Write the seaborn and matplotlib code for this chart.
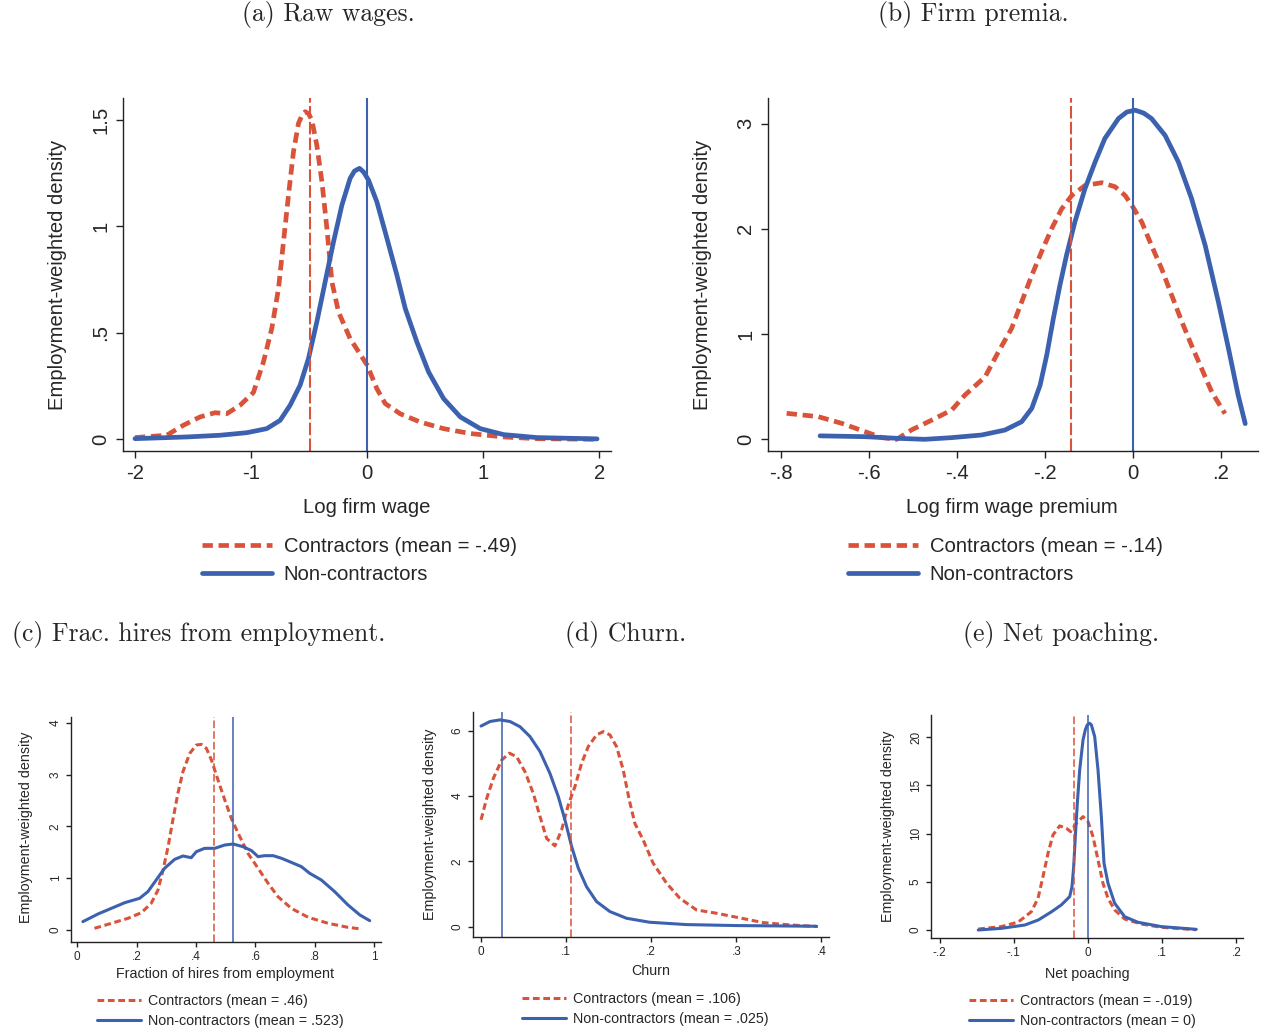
import matplotlib
matplotlib.use("Agg")
import matplotlib.pyplot as plt
import seaborn as sns

# ---- data ----
# (a) raw wages
a_con_x = [-2.0, -1.727, -1.583, -1.44, -1.31, -1.21, -1.095, -0.98, -0.894, -0.822, -0.764, -0.721,
           -0.678, -0.635, -0.592, -0.56, -0.534, -0.505, -0.477, -0.434, -0.39, -0.347, -0.304,
           -0.247, -0.147, 0.0, 0.083, 0.155, 0.284, 0.457, 0.658, 0.888, 1.175, 1.463, 1.98]
a_con_y = [0.008, 0.019, 0.066, 0.105, 0.125, 0.12, 0.16, 0.22, 0.363, 0.52, 0.708, 0.928,
           1.147, 1.351, 1.484, 1.525, 1.539, 1.53, 1.50, 1.382, 1.21, 0.99, 0.74,
           0.598, 0.473, 0.348, 0.238, 0.168, 0.12, 0.081, 0.05, 0.027, 0.011, 0.003, 0.0]
a_non_x = [-2.0, -1.554, -1.267, -1.037, -0.865, -0.75, -0.664, -0.578, -0.506, -0.434, -0.362,
           -0.29, -0.218, -0.147, -0.11, -0.066, -0.03, 0.011, 0.045, 0.083, 0.17, 0.256, 0.328,
           0.428, 0.529, 0.658, 0.802, 0.974, 1.175, 1.463, 1.98]
a_non_y = [0.003, 0.011, 0.019, 0.031, 0.05, 0.089, 0.16, 0.254, 0.379, 0.551, 0.74,
           0.928, 1.1, 1.226, 1.26, 1.273, 1.255, 1.218, 1.17, 1.116, 0.944, 0.771, 0.614,
           0.457, 0.316, 0.191, 0.105, 0.05, 0.022, 0.008, 0.002]
a_means = [-0.49, 0.0]

# (b) firm premia
b_con_x = [-0.787, -0.715, -0.662, -0.609, -0.571, -0.537, -0.503, -0.457, -0.412, -0.382, -0.336,
           -0.306, -0.276, -0.253, -0.23, -0.208, -0.185, -0.162, -0.139, -0.109, -0.071, -0.041,
           -0.018, 0.0, 0.02, 0.042, 0.065, 0.088, 0.111, 0.133, 0.156, 0.179, 0.209]
b_con_y = [0.247, 0.215, 0.152, 0.073, 0.016, 0.0, 0.09, 0.183, 0.278, 0.42, 0.594,
           0.83, 1.052, 1.305, 1.558, 1.78, 2.0, 2.19, 2.317, 2.412, 2.438, 2.4,
           2.317, 2.206, 2.063, 1.842, 1.621, 1.368, 1.117, 0.893, 0.671, 0.449, 0.244]
b_non_x = [-0.711, -0.609, -0.533, -0.473, -0.412, -0.344, -0.291, -0.253, -0.23, -0.211, -0.196,
           -0.181, -0.166, -0.151, -0.132, -0.109, -0.086, -0.064, -0.033, -0.014, 0.005, 0.024,
           0.042, 0.073, 0.103, 0.133, 0.164, 0.194, 0.217, 0.239, 0.255]
b_non_y = [0.033, 0.025, 0.009, 0.0, 0.016, 0.041, 0.088, 0.167, 0.294, 0.515, 0.8,
           1.148, 1.465, 1.75, 2.066, 2.383, 2.636, 2.858, 3.048, 3.11, 3.127, 3.10,
           3.048, 2.887, 2.636, 2.288, 1.842, 1.305, 0.861, 0.418, 0.149]
b_means = [-0.14, 0.0]

# (c) fraction of hires from employment
c_con_x = [0.058, 0.115, 0.171, 0.216, 0.249, 0.272, 0.289, 0.306, 0.322, 0.339, 0.356, 0.379,
           0.401, 0.418, 0.435, 0.452, 0.474, 0.497, 0.519, 0.542, 0.575, 0.609, 0.643, 0.676,
           0.721, 0.778, 0.845, 0.912, 0.957]
c_con_y = [0.032, 0.129, 0.225, 0.334, 0.514, 0.772, 1.158, 1.608, 2.122, 2.637, 3.055, 3.408,
           3.569, 3.582, 3.505, 3.28, 2.894, 2.508, 2.154, 1.865, 1.479, 1.19, 0.9, 0.643,
           0.418, 0.244, 0.129, 0.051, 0.019]
c_non_x = [0.019, 0.07, 0.115, 0.16, 0.21, 0.238, 0.266, 0.294, 0.328, 0.356, 0.384, 0.401,
           0.429, 0.463, 0.497, 0.525, 0.558, 0.587, 0.609, 0.631, 0.66, 0.688, 0.721, 0.755,
           0.783, 0.822, 0.867, 0.912, 0.952, 0.985]
c_non_y = [0.161, 0.309, 0.418, 0.527, 0.611, 0.74, 0.965, 1.19, 1.363, 1.428, 1.395, 1.511,
           1.576, 1.576, 1.64, 1.659, 1.608, 1.531, 1.415, 1.434, 1.434, 1.383, 1.305, 1.222,
           1.093, 0.965, 0.74, 0.482, 0.289, 0.18]
c_means = [0.46, 0.523]

# (d) churn
d_con_x = [0.0, 0.0067, 0.0145, 0.0243, 0.0333, 0.0419, 0.0517, 0.0614, 0.0693, 0.0771, 0.0869,
           0.0947, 0.1025, 0.1104, 0.1182, 0.126, 0.1358, 0.1436, 0.1515, 0.1593, 0.1671, 0.1742,
           0.1808, 0.1906, 0.2023, 0.218, 0.2337, 0.2532, 0.2767, 0.3002, 0.3315, 0.3628, 0.396]
d_con_y = [3.27, 3.93, 4.54, 5.1, 5.31, 5.2, 4.74, 4.08, 3.37, 2.7, 2.47,
           2.96, 3.72, 4.29, 5.0, 5.51, 5.87, 5.97, 5.87, 5.51, 4.8, 3.88,
           3.16, 2.65, 1.94, 1.33, 0.867, 0.51, 0.408, 0.286, 0.122, 0.051, 0.0]
d_non_x = [0.0, 0.0106, 0.0223, 0.034, 0.0458, 0.0575, 0.0693, 0.081, 0.0908, 0.0986, 0.1065,
           0.1143, 0.124, 0.1358, 0.1515, 0.171, 0.198, 0.2415, 0.3, 0.394]
d_non_y = [6.14, 6.28, 6.33, 6.28, 6.12, 5.82, 5.36, 4.69, 3.98, 3.27, 2.45,
           1.79, 1.22, 0.765, 0.459, 0.255, 0.133, 0.061, 0.031, 0.01]
d_means = [0.106, 0.025]

# (e) net poaching
e_con_x = [-0.148, -0.117, -0.094, -0.0764, -0.0674, -0.0607, -0.0539, -0.0472, -0.0382, -0.0292,
           -0.0234, -0.0157, -0.0067, 0.0, 0.0067, 0.0135, 0.0202, 0.027, 0.036, 0.0494, 0.0719,
           0.0989, 0.146]
e_con_y = [0.1, 0.35, 0.83, 1.9, 3.29, 5.54, 7.96, 9.86, 10.8, 10.55,
           10.2, 11.07, 11.76, 11.25, 9.69, 7.27, 4.84, 3.29, 2.08, 1.14, 0.62,
           0.28, 0.03]
e_non_x = [-0.148, -0.117, -0.085, -0.067, -0.049, -0.036, -0.0247, -0.0216, -0.0193, -0.0171,
           -0.0144, -0.0112, -0.0067, -0.0035, -0.0009, 0.002, 0.0045, 0.009, 0.0135, 0.018, 0.0216,
           0.027, 0.036, 0.0494, 0.0674, 0.0989, 0.146]
e_non_y = [0.0, 0.17, 0.52, 1.04, 1.9, 2.6, 3.46, 4.5, 6.57, 9.69,
           13.15, 16.6, 19.72, 20.8, 21.28, 21.45, 21.28, 20.07, 16.6, 11.76, 6.92,
           4.84, 2.77, 1.38, 0.8, 0.35, 0.07]
e_means = [-0.019, 0.0]

panel_titles = ["(a) Raw wages.", "(b) Firm premia.", "(c) Frac. hires from employment.",
                "(d) Churn.", "(e) Net poaching."]
x_labels = ["Log firm wage", "Log firm wage premium", "Fraction of hires from employment",
            "Churn", "Net poaching"]
legend_labels = [["Contractors (mean = -.49)", "Non-contractors"],
                 ["Contractors (mean = -.14)", "Non-contractors"],
                 ["Contractors (mean = .46)", "Non-contractors (mean = .523)"],
                 ["Contractors (mean = .106)", "Non-contractors (mean = .025)"],
                 ["Contractors (mean = -.019)", "Non-contractors (mean = 0)"]]
x_ticks = [[-2, -1, 0, 1, 2], [-0.8, -0.6, -0.4, -0.2, 0, 0.2], [0, 0.2, 0.4, 0.6, 0.8, 1],
           [0, 0.1, 0.2, 0.3, 0.4], [-0.2, -0.1, 0, 0.1, 0.2]]
x_ticklabels = [["-2", "-1", "0", "1", "2"], ["-.8", "-.6", "-.4", "-.2", "0", ".2"],
                ["0", ".2", ".4", ".6", ".8", "1"], ["0", ".1", ".2", ".3", ".4"],
                ["-.2", "-.1", "0", ".1", ".2"]]
y_ticks = [[0, 0.5, 1, 1.5], [0, 1, 2, 3], [0, 1, 2, 3, 4], [0, 2, 4, 6], [0, 5, 10, 15, 20]]
y_ticklabels = [["0", ".5", "1", "1.5"], ["0", "1", "2", "3"], ["0", "1", "2", "3", "4"],
                ["0", "2", "4", "6"], ["0", "5", "10", "15", "20"]]

RED = "#D9533A"
BLUE = "#3B61AF"

sns.set_style("ticks")
plt.rcParams["font.family"] = ["Liberation Sans", "DejaVu Sans"]
plt.rcParams["axes.unicode_minus"] = False

W, H = 1264, 1036
fig = plt.figure(figsize=(W / 100, H / 100), dpi=100)


def px(x0, y0, x1, y1):
    # pixel box (left, top, right, bottom) -> figure rect
    return [x0 / W, 1 - y1 / H, (x1 - x0) / W, (y1 - y0) / H]


panels = [
    dict(rect=px(122.7, 98.3, 611, 451), xlim=(-2.106, 2.1), ylim=(-0.055, 1.602),
         con=(a_con_x, a_con_y), non=(a_non_x, a_non_y), means=a_means, big=True,
         title_xy=(328, 15), xlab=(0.500, -0.159), ylab=(-0.1345, 0.499),
         leg=(202, 537)),
    dict(rect=px(767.7, 98.3, 1258, 451), xlim=(-0.83, 0.284), ylim=(-0.111, 3.24),
         con=(b_con_x, b_con_y), non=(b_non_x, b_non_y), means=b_means, big=True,
         title_xy=(973, 15), xlab=(0.498, -0.159), ylab=(-0.132, 0.499),
         leg=(848, 537)),
    dict(rect=px(70.7, 717, 381, 941.6), xlim=(-0.022, 1.023), ylim=(-0.224, 4.11),
         con=(c_con_x, c_con_y), non=(c_non_x, c_non_y), means=c_means, big=False,
         title_xy=(199, 635), xlab=(0.497, -0.144), ylab=(-0.144, 0.51),
         leg=(97, 994)),
    dict(rect=px(472.7, 711.7, 829, 936.7), xlim=(-0.0098, 0.409), ylim=(-0.31, 6.58),
         con=(d_con_x, d_con_y), non=(d_non_x, d_non_y), means=d_means, big=False,
         title_xy=(626, 635), xlab=(0.5, -0.152), ylab=(-0.12, 0.50),
         leg=(522, 992)),
    dict(rect=px(931, 715, 1243, 938), xlim=(-0.2117, 0.209), ylim=(-0.83, 22.3),
         con=(e_con_x, e_con_y), non=(e_non_x, e_non_y), means=e_means, big=False,
         title_xy=(1061, 635), xlab=(0.5, -0.161), ylab=(-0.138, 0.502),
         leg=(969, 994)),
]

for i, p in enumerate(panels):
    ax = fig.add_axes(p["rect"])
    big = p["big"]
    lw = 3.4 if big else 2.2
    vlw = 1.5 if big else 1.1
    fs_lab = 14.6 if big else 10.3
    fs_tick = 14.6 if big else 8.5

    sns.lineplot(x=p["con"][0], y=p["con"][1], ax=ax, color=RED, linewidth=lw,
                 linestyle=(0, (2.2, 1.2)), sort=False, estimator=None,
                 label=legend_labels[i][0])
    sns.lineplot(x=p["non"][0], y=p["non"][1], ax=ax, color=BLUE, linewidth=lw,
                 sort=False, estimator=None, label=legend_labels[i][1])
    if ax.get_legend() is not None:
        ax.get_legend().remove()

    ax.axvline(p["means"][0], color=RED, linewidth=vlw,
               linestyle=(0, (6, 1.6)) if big else (0, (5, 2)))
    ax.axvline(p["means"][1], color=BLUE, linewidth=vlw)

    ax.set_xlim(p["xlim"])
    ax.set_ylim(p["ylim"])
    ax.set_xticks(x_ticks[i])
    ax.set_xticklabels(x_ticklabels[i])
    ax.set_yticks(y_ticks[i])
    ax.set_yticklabels(y_ticklabels[i], rotation=90, va="center")

    for side in ["top", "right"]:
        ax.spines[side].set_visible(False)
    for side in ["left", "bottom"]:
        ax.spines[side].set_linewidth(1.0)
        ax.spines[side].set_color("#222222")
    ax.tick_params(axis="both", direction="out", length=5 if big else 3.5, width=1.0,
                   color="#222222", labelsize=fs_tick, pad=4 if big else 3)

    ax.set_xlabel(x_labels[i], fontsize=fs_lab, va="center")
    ax.xaxis.set_label_coords(*p["xlab"])
    ax.set_ylabel("Employment-weighted density", fontsize=fs_lab, va="center")
    ax.yaxis.set_label_coords(*p["ylab"])

    handles, labels = ax.get_legend_handles_labels()
    fig.legend(handles, labels, loc="upper left",
               bbox_to_anchor=(p["leg"][0] / W, 1 - p["leg"][1] / H),
               bbox_transform=fig.transFigure, frameon=False, fontsize=fs_lab,
               borderpad=0, borderaxespad=0, handlelength=3.43 if big else 3.1,
               handletextpad=0.6 if big else 0.45,
               labelspacing=0.45 if big else 0.4)

    fig.text(p["title_xy"][0] / W, 1 - p["title_xy"][1] / H, panel_titles[i],
             family="cmr10", fontsize=18.5, ha="center", va="center")

fig.savefig("out.png", dpi=100)
